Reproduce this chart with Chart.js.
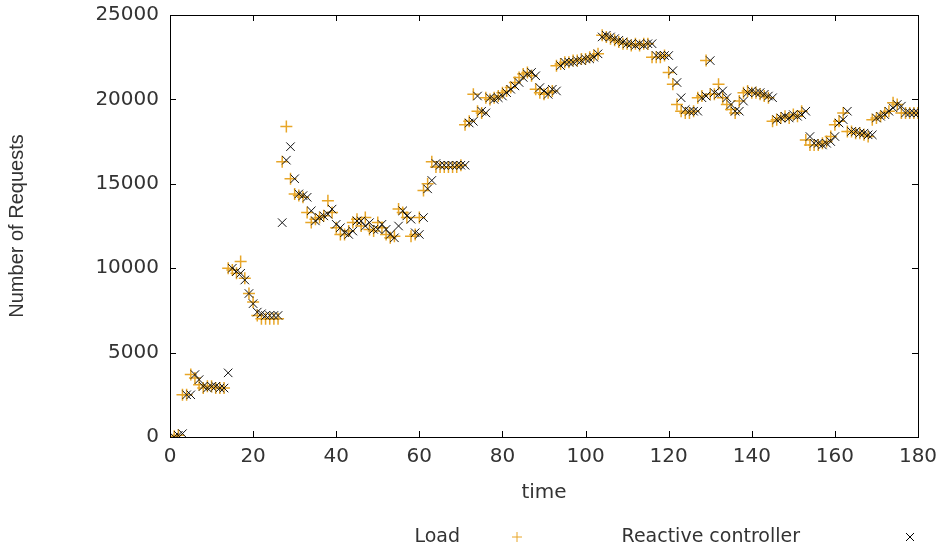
<!DOCTYPE html>
<html>
<head>
<meta charset="utf-8">
<script src="https://cdn.jsdelivr.net/npm/chart.js@4"></script>
<style>
  html, body { margin: 0; padding: 0; background: #fff; }
  #wrap { width: 944px; height: 552px; }
</style>
</head>
<body>
<div id="wrap"><canvas id="reqChart" width="944" height="552"></canvas></div>
<script>
// time steps 1..180
const times = Array.from({length: 180}, (_, i) => i + 1);

const loadValues = [
  50, 100, 2500, 2500, 3700, 3500, 3100, 2900, 3000, 3000,
  2900, 2900, 2900, 10000, 9900, 9700, 10400, 9400, 8500, 8000,
  7200, 7000, 7000, 7000, 7000, 7000, 16300, 18400, 15300, 14400,
  14300, 14200, 13300, 12700, 12900, 13000, 13100, 14000, 13300, 12400,
  12000, 12000, 12200, 12700, 12900, 12500, 13000, 12300, 12200, 12700,
  12400, 12000, 11800, 11900, 13500, 13300, 13000, 11900, 12000, 13000,
  14600, 15000, 16300, 16000, 16000, 16000, 16000, 16000, 16000, 16100,
  18500, 18700, 20300, 19300, 19200, 20100, 20000, 20100, 20200, 20400,
  20500, 20700, 21000, 21300, 21500, 21600, 21400, 20600, 20400, 20300,
  20400, 20500, 22000, 22100, 22200, 22200, 22300, 22300, 22400, 22400,
  22500, 22600, 22700, 23800, 23700, 23600, 23500, 23400, 23300, 23300,
  23200, 23300, 23200, 23300, 23300, 22500, 22500, 22500, 22600, 21600,
  20900, 19700, 19300, 19200, 19200, 19300, 20100, 20200, 22300, 20300,
  20300, 20900, 20100, 19700, 19400, 19200, 19900, 20400, 20500, 20400,
  20400, 20300, 20200, 20100, 18700, 18800, 18900, 19000, 18900, 19100,
  19000, 19300, 17600, 17300, 17300, 17300, 17400, 17500, 17800, 18500,
  18700, 19200, 18100, 18100, 18000, 18000, 17900, 17800, 18800, 18900,
  19000, 19200, 19300, 19800, 19700, 19200, 19200, 19200, 19200, 19200
];

const reactiveValues = [
  0, 100, 200, 2500, 2500, 3700, 3400, 3000, 2900, 3000,
  3000, 2900, 2900, 3800, 10000, 9800, 9700, 9300, 8500, 7900,
  7400, 7300, 7200, 7200, 7200, 7200, 12700, 16400, 17200, 15300,
  14400, 14300, 14200, 13400, 12800, 13000, 13100, 13200, 13500, 12600,
  12400, 12100, 12000, 12200, 12800, 12800, 12500, 12700, 12300, 12300,
  12600, 12300, 12000, 11800, 12500, 13400, 13100, 12900, 12100, 12000,
  13000, 14700, 15200, 16200, 16100, 16100, 16100, 16100, 16100, 16100,
  16100, 18600, 18700, 20200, 19300, 19200, 20100, 20000, 20100, 20200,
  20400, 20600, 20800, 21000, 21300, 21500, 21600, 21400, 20700, 20500,
  20300, 20600, 20500, 22000, 22200, 22200, 22200, 22300, 22300, 22400,
  22400, 22500, 22700, 23700, 23800, 23700, 23600, 23500, 23400, 23300,
  23300, 23200, 23300, 23200, 23300, 23300, 22600, 22600, 22600, 22600,
  21700, 21000, 20100, 19400, 19300, 19300, 19300, 20100, 20200, 22300,
  20400, 20300, 20500, 20100, 19700, 19300, 19300, 19900, 20400, 20500,
  20400, 20400, 20300, 20200, 20100, 18800, 18900, 19000, 18900, 19100,
  19000, 19100, 19300, 17800, 17400, 17400, 17300, 17400, 17500, 17800,
  18600, 18800, 19300, 18100, 18100, 18000, 18000, 17900, 17900, 18900,
  19000, 19100, 19300, 19500, 19700, 19600, 19200, 19200, 19200, 19200
];

const xTicks = [0, 20, 40, 60, 80, 100, 120, 140, 160, 180];
const yTicks = [0, 5000, 10000, 15000, 20000, 25000];

const LOAD_COLOR = '#e8a628';
const TEXT_COLOR = '#333';

function toPoints(vals) {
  let pts = [];
  for (let i = 0; i < vals.length; i++) {
    pts.push({x: times[i], y: vals[i]});
  }
  return pts;
}

// gnuplot style frame with inward ticks
const framePlugin = {
  id: 'frame',
  afterDatasetsDraw(chart) {
    const {ctx, chartArea: a, scales} = chart;
    ctx.save();
    ctx.strokeStyle = '#000';
    ctx.lineWidth = 1;
    ctx.strokeRect(a.left + 0.5, a.top + 0.5, a.right - a.left, a.bottom - a.top);
    ctx.beginPath();
    xTicks.forEach(v => {
      const px = Math.round(scales.x.getPixelForValue(v)) + 0.5;
      ctx.moveTo(px, a.bottom); ctx.lineTo(px, a.bottom - 6);
      ctx.moveTo(px, a.top); ctx.lineTo(px, a.top + 6);
    });
    yTicks.forEach(v => {
      const py = Math.round(scales.y.getPixelForValue(v)) + 0.5;
      ctx.moveTo(a.left, py); ctx.lineTo(a.left + 6, py);
      ctx.moveTo(a.right, py); ctx.lineTo(a.right - 6, py);
    });
    ctx.stroke();
    ctx.restore();
  },
  afterDraw(chart) {
    // legend at the bottom, text first then the marker
    const ctx = chart.ctx;
    const ds = chart.data.datasets;
    ctx.save();
    ctx.font = '19px "DejaVu Sans"';
    ctx.fillStyle = TEXT_COLOR;
    ctx.textAlign = 'right';
    ctx.textBaseline = 'middle';
    const y = 537;
    ctx.fillText(ds[1].label, 460, y);
    ctx.fillText(ds[0].label, 800, y);
    ctx.lineWidth = 1;
    ctx.strokeStyle = LOAD_COLOR;
    ctx.beginPath();
    ctx.moveTo(512, y); ctx.lineTo(522, y);
    ctx.moveTo(517, y - 5); ctx.lineTo(517, y + 5);
    ctx.stroke();
    ctx.strokeStyle = '#000';
    ctx.beginPath();
    ctx.moveTo(906, y - 4); ctx.lineTo(914, y + 4);
    ctx.moveTo(906, y + 4); ctx.lineTo(914, y - 4);
    ctx.stroke();
    ctx.restore();
  }
};

new Chart(document.getElementById('reqChart'), {
  type: 'scatter',
  data: {
    datasets: [{
      label: 'Reactive controller',
      data: toPoints(reactiveValues),
      pointStyle: 'crossRot',
      pointRadius: 6,
      pointHoverRadius: 6,
      borderColor: '#111',
      backgroundColor: '#111',
      pointBorderWidth: 1,
      order: 0
    }, {
      label: 'Load',
      data: toPoints(loadValues),
      pointStyle: 'cross',
      pointRadius: 6,
      pointHoverRadius: 6,
      borderColor: LOAD_COLOR,
      backgroundColor: LOAD_COLOR,
      pointBorderWidth: 1.5,
      order: 1
    }]
  },
  options: {
    responsive: false,
    animation: false,
    events: [],
    layout: { padding: { top: 15, right: 26, left: 0, bottom: 0 } },
    plugins: {
      legend: { display: false },
      tooltip: { enabled: false }
    },
    scales: {
      x: {
        type: 'linear',
        min: 0,
        max: 180,
        afterFit: function(scale) {
          scale.height = 115;
          scale.paddingLeft = 0;
          scale.paddingRight = 0;
        },
        afterBuildTicks: function(scale) { scale.ticks = xTicks.map(v => ({value: v})); },
        grid: { display: false, drawTicks: false },
        border: { display: false },
        ticks: {
          padding: 8,
          color: TEXT_COLOR,
          font: { family: 'DejaVu Sans', size: 20 },
          maxRotation: 0,
          autoSkip: false,
          callback: v => String(v)
        },
        title: {
          display: true,
          text: 'time',
          color: TEXT_COLOR,
          font: { family: 'DejaVu Sans', size: 20 },
          padding: { top: 4, bottom: 47 }
        }
      },
      y: {
        min: 0,
        max: 25000,
        afterFit: function(scale) {
          scale.width = 170;
          scale.paddingTop = 0;
          scale.paddingBottom = 0;
        },
        afterBuildTicks: function(scale) { scale.ticks = yTicks.map(v => ({value: v})); },
        grid: { display: false, drawTicks: false },
        border: { display: false },
        ticks: {
          padding: 11,
          color: TEXT_COLOR,
          font: { family: 'DejaVu Sans', size: 20 },
          autoSkip: false,
          callback: v => String(v)
        },
        title: {
          display: true,
          text: 'Number of Requests',
          color: TEXT_COLOR,
          font: { family: 'Liberation Sans', size: 20 },
          padding: { top: 5, bottom: 0 }
        }
      }
    }
  },
  plugins: [framePlugin]
});
</script>
</body>
</html>
